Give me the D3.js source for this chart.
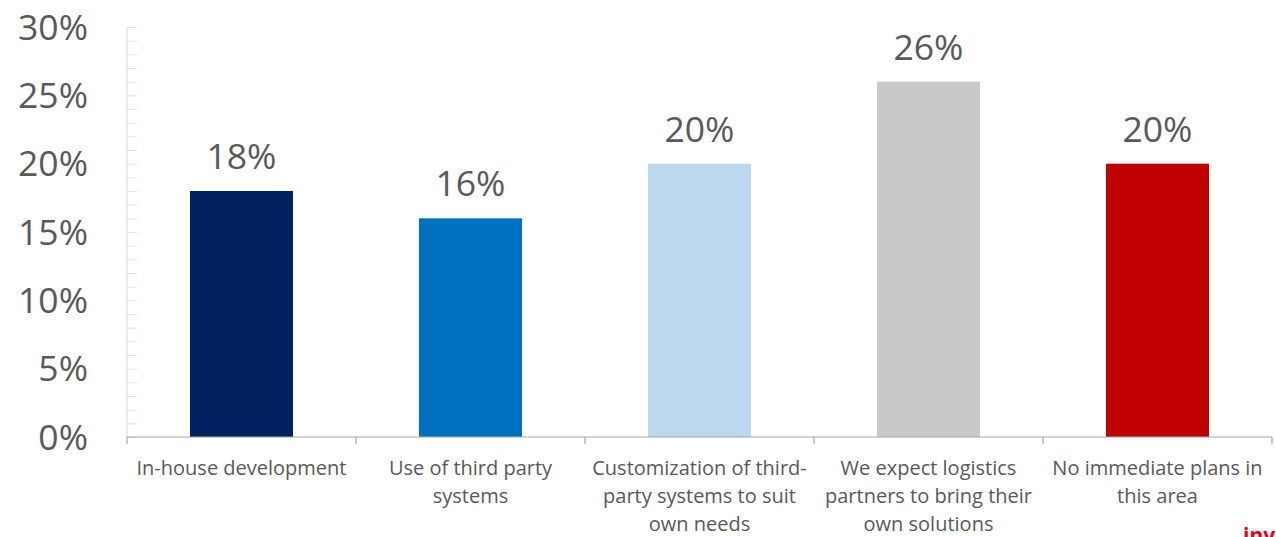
<!DOCTYPE html>
<html>
<head>
<meta charset="utf-8">
<script src="https://cdn.jsdelivr.net/npm/d3@7/dist/d3.min.js"></script>
<style>
  html, body { margin: 0; padding: 0; background: #fff; overflow: hidden; }
  svg { display: block; }
</style>
</head>
<body>
<svg id="chart" width="1276" height="537"></svg>
<script>
const categories = [
  ["In-house development"],
  ["Use of third party", "systems"],
  ["Customization of third-", "party systems to suit", "own needs"],
  ["We expect logistics", "partners to bring their", "own solutions"],
  ["No immediate plans in", "this area"]
];
const values = [18, 16, 20, 26, 20];
const colors = ["#002060", "#0070C0", "#BDD7EE", "#C9C9C9", "#C00000"];
const yTicks = [0, 5, 10, 15, 20, 25, 30];
const minorTicks = d3.range(0, 31, 1);

const svg = d3.select("#chart");
const margin = { left: 127, right: 4, top: 27, bottom: 100 };
const W = 1276, H = 537;

const x = d3.scaleBand()
  .domain(d3.range(categories.length))
  .range([margin.left, W - margin.right])
  .paddingInner(0.55)
  .paddingOuter(0.275);
const xb = d3.scaleBand()
  .domain(d3.range(categories.length))
  .range([margin.left, W - margin.right]);
const y = d3.scaleLinear().domain([0, 30]).range([437, 27]);

const font = "'Open Sans', 'Noto Sans', sans-serif";

// Y axis line and minor ticks
const yAxis = svg.append("g").attr("transform", `translate(${margin.left},0)`)
  .call(d3.axisRight(y).tickValues(minorTicks).tickSize(10).tickFormat(""));
yAxis.select(".domain").attr("stroke", "#d9d9d9").attr("d", `M0,${y(30)}V${y(0)}`);
yAxis.selectAll(".tick line").attr("stroke", "#e3e3e3");

// Y labels
svg.append("g").selectAll("text").data(yTicks).join("text")
  .attr("x", 88).attr("y", d => y(d))
  .attr("dy", "0.36em")
  .attr("text-anchor", "end")
  .attr("font-family", font).attr("font-size", 35.5)
  .attr("fill", "#595959")
  .text(d => d + "%");

// Bars
svg.append("g").selectAll("rect").data(values).join("rect")
  .attr("x", (d, i) => x(i)).attr("width", x.bandwidth())
  .attr("y", d => y(d)).attr("height", d => y(0) - y(d))
  .attr("fill", (d, i) => colors[i]);

// Value labels
svg.append("g").selectAll("text").data(values).join("text")
  .attr("x", (d, i) => x(i) + x.bandwidth() / 2)
  .attr("y", d => y(d) - 22)
  .attr("text-anchor", "middle")
  .attr("font-family", font).attr("font-size", 35.5)
  .attr("fill", "#595959")
  .text(d => d + "%");

// X axis
const xAxisLine = svg.append("g");
xAxisLine.append("line")
  .attr("x1", margin.left).attr("x2", W - margin.right)
  .attr("y1", y(0)).attr("y2", y(0))
  .attr("stroke", "#a6a6a6").attr("stroke-width", 1.2);
const bounds = d3.range(categories.length + 1).map(i => i < categories.length ? xb(i) : xb(i - 1) + xb.bandwidth());
xAxisLine.selectAll("line.t").data(bounds).join("line").attr("class", "t")
  .attr("x1", d => d).attr("x2", d => d)
  .attr("y1", y(0)).attr("y2", y(0) + 7)
  .attr("stroke", "#a6a6a6").attr("stroke-width", 1.2);

// Category labels
const catG = svg.append("g");
categories.forEach((lines, i) => {
  const t = catG.append("text")
    .attr("x", xb(i) + xb.bandwidth() / 2)
    .attr("y", 475)
    .attr("text-anchor", "middle")
    .attr("font-family", font).attr("font-size", 20)
    .attr("fill", "#595959");
  lines.forEach((l, j) => {
    t.append("tspan").attr("x", xb(i) + xb.bandwidth() / 2)
      .attr("y", 475 + j * 28).text(l);
  });
});

// Watermark, cropped by the bottom edge as in the reference
svg.append("text")
  .attr("x", 1243).attr("y", 543)
  .attr("font-family", font).attr("font-size", 21).attr("font-weight", "bold")
  .attr("fill", "#e2001a")
  .text("inv");
</script>
</body>
</html>
